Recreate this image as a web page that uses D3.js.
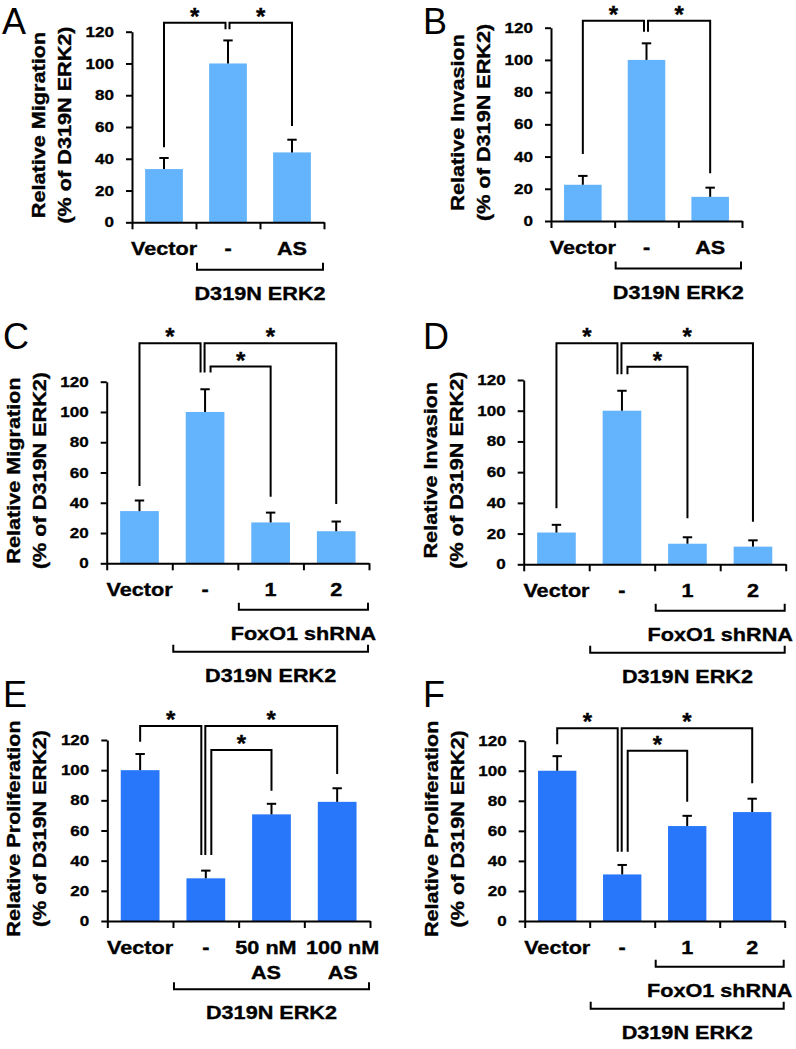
<!DOCTYPE html>
<html><head><meta charset="utf-8">
<script src="https://cdn.jsdelivr.net/npm/d3@7"></script>
<style>
body{margin:0;background:#fff}
svg{display:block}
text{font-family:"Liberation Sans",Arial,Helvetica,sans-serif}
</style>
</head><body>
<svg id="chart" width="796" height="1049"></svg>
<script>
// ---------- data ----------
const yTicks = [0, 20, 40, 60, 80, 100, 120];
const catsAS = ["Vector", "-", "AS"];
const catsShRNA = ["Vector", "-", "1", "2"];
const catsDose = ["Vector", "-", "50 nM|AS", "100 nM|AS"];

const valuesA = [33.5, 100, 44];   const errorsA = [7, 14.5, 8];
const valuesB = [22.5, 100, 15];   const errorsB = [5.5, 10.3, 5.7];
const valuesC = [34.5, 100, 27, 21.2]; const errorsC = [7, 15, 6.5, 6.4];
const valuesD = [20.7, 100, 13.4, 11.5]; const errorsD = [5, 13, 4.2, 4.1];
const valuesE = [100, 28.3, 70.7, 79]; const errorsE = [10.7, 5.1, 7, 9];
const valuesF = [100, 31, 63.2, 72.5]; const errorsF = [9.7, 6.3, 6.8, 8.9];

const yTitleMig = ["Relative Migration", "(% of D319N ERK2)"];
const yTitleInv = ["Relative Invasion", "(% of D319N ERK2)"];
const yTitlePro = ["Relative Proliferation", "(% of D319N ERK2)"];

// significance brackets: from/to category index, levels in data units
const sigA = [{from:0,to:1,top:125.6,y1:47.3,y2:121.6},{from:1,to:2,top:125.6,y1:121.6,y2:60.6}];
const sigB = [{from:0,to:1,top:124.3,y1:41.6,y2:117.5},{from:1,to:2,top:124.3,y1:117.5,y2:29.6}];
const sigC = [{from:0,to:1,top:145.4,y1:51.1,y2:126},{from:1,to:3,top:145.4,y1:126,y2:39.2},{from:1,to:2,top:130,y1:126,y2:44}];
const sigD = [{from:0,to:1,top:143.9,y1:36.5,y2:123.7},{from:1,to:3,top:143.9,y1:123.7,y2:27.7},{from:1,to:2,top:128.6,y1:123.7,y2:30}];
const sigE = [{from:0,to:1,top:129.3,y1:118.9,y2:43.8},{from:1,to:3,top:129.3,y1:43.8,y2:97.5},{from:1,to:2,top:113.4,y1:43.8,y2:86.4}];
const sigF = [{from:0,to:1,top:128.3,y1:117.6,y2:46.1},{from:1,to:3,top:128.3,y1:46.1,y2:91.6},{from:1,to:2,top:113.3,y1:46.1,y2:79.4}];

// group brackets under the axis
const groupsAS = [{label:"D319N ERK2", from:1, to:2, row:0}];
const groupsShRNA = [{label:"FoxO1 shRNA", from:2, to:3, row:0},{label:"D319N ERK2", from:1, to:3, row:1}];
const groupsDose = [{label:"D319N ERK2", from:1, to:3, row:0}];

// ---------- layout ----------
const LIGHT = "#63b3fd", DARK = "#2877fb";
const panels = [
  {letter:"A", lx:2, ly:34, ax:132, x1:324, yTop:31.7, y0:222.3, cats:catsAS, values:valuesA, errors:errorsA, title:yTitleMig, sig:sigA, groups:groupsAS, color:LIGHT, grpTop:47.5, ldx:[0,0,0]},
  {letter:"B", lx:423, ly:34, ax:551, x1:742, yTop:27.7, y0:221, cats:catsAS, values:valuesB, errors:errorsB, title:yTitleInv, sig:sigB, groups:groupsAS, color:LIGHT, grpTop:47.5, ldx:[0,0,0]},
  {letter:"C", lx:3, ly:349, ax:106.7, x1:369, yTop:381.7, y0:563.3, cats:catsShRNA, values:valuesC, errors:errorsC, title:yTitleMig, sig:sigC, groups:groupsShRNA, color:LIGHT, grpTop:46.5, ldx:[0,0,0,0]},
  {letter:"D", lx:423, ly:349, ax:523.7, x1:785.7, yTop:380, y0:564.3, cats:catsShRNA, values:valuesD, errors:errorsD, title:yTitleInv, sig:sigD, groups:groupsShRNA, color:LIGHT, grpTop:46.5, ldx:[0,0,0,0]},
  {letter:"E", lx:3, ly:707, ax:107.3, x1:370, yTop:740, y0:921, cats:catsDose, values:valuesE, errors:errorsE, title:yTitlePro, sig:sigE, groups:groupsDose, color:DARK, grpTop:68.3, ldx:[0,0,-5.5,5.5]},
  {letter:"F", lx:423, ly:707, ax:524.7, x1:784.7, yTop:740.7, y0:921, cats:catsShRNA, values:valuesF, errors:errorsF, title:yTitlePro, sig:sigF, groups:groupsShRNA, color:DARK, grpTop:45.7, ldx:[0,0,0,0]}
];

const SX = 1.17;
const svg = d3.select("#chart");
svg.append("rect").attr("width",796).attr("height",1049).attr("fill","#fff");

function stext(g, x, y, str, o) {
  o = Object.assign({size:18.5, weight:"bold", anchor:"middle", sx:SX, rot:0, stroke:0.35}, o || {});
  const t = g.append("text")
    .attr("transform", `translate(${x},${y}) rotate(${o.rot}) scale(${o.sx},1)`)
    .attr("text-anchor", o.anchor).attr("font-size", o.size)
    .attr("font-weight", o.weight).attr("fill", "#000").text(str);
  if (o.stroke) t.attr("stroke", "#000").attr("stroke-width", o.stroke);
  return t;
}

panels.forEach(P => {
  const g = svg.append("g");
  const n = P.cats.length;
  const y = d3.scaleLinear().domain([0, 120]).range([P.y0, P.yTop]);
  const x = d3.scaleBand().domain(P.cats).range([P.ax, P.x1]).paddingInner(0.41).paddingOuter(0.205);
  const xb = d3.scaleLinear().domain([0, n]).range([P.ax, P.x1]);
  const cx = i => x(P.cats[i]) + x.bandwidth() / 2;

  // panel letter
  stext(g, P.lx, P.ly, P.letter, {size:36, weight:"normal", anchor:"start", sx:1, stroke:0});

  // bars
  g.selectAll("rect.bar").data(P.values).join("rect").attr("class","bar")
    .attr("x", (d,i) => x(P.cats[i])).attr("width", x.bandwidth())
    .attr("y", d => y(d)).attr("height", d => P.y0 - y(d)).attr("fill", P.color);

  // error bars (upper)
  const eb = g.append("g").attr("stroke","#000").attr("stroke-width",2).attr("fill","none");
  P.values.forEach((v,i) => {
    const xc = cx(i), top = y(v + P.errors[i]);
    eb.append("line").attr("x1",xc).attr("x2",xc).attr("y1",y(v)).attr("y2",top);
    eb.append("line").attr("x1",xc-4.7).attr("x2",xc+4.7).attr("y1",top).attr("y2",top);
  });

  // y axis
  const ay = g.append("g").attr("transform",`translate(${P.ax},0)`)
    .call(d3.axisLeft(y).tickValues(yTicks).tickSize(6).tickSizeOuter(0).tickPadding(9));
  ay.attr("font-family", null).attr("font-size", null);
  ay.select(".domain").attr("stroke","#000").attr("stroke-width",2);
  ay.selectAll(".tick line").attr("stroke","#000").attr("stroke-width",2);
  ay.selectAll(".tick text").attr("font-size",14.2).attr("font-weight","bold").attr("fill","#000")
    .attr("stroke","#000").attr("stroke-width",0.3)
    .attr("transform","scale(1.2,1)");

  // x axis (band boundaries)
  const axx = g.append("g").attr("transform",`translate(0,${P.y0})`)
    .call(d3.axisBottom(xb).tickValues(d3.range(n+1)).tickFormat("").tickSize(7).tickSizeOuter(0));
  axx.select(".domain").attr("stroke","#000").attr("stroke-width",2);
  axx.selectAll(".tick line").attr("stroke","#000").attr("stroke-width",2);

  // category labels
  P.cats.forEach((c,i) => {
    const parts = c.split("|");
    parts.forEach((s,k) => stext(g, cx(i) + P.ldx[i], P.y0 + 33 + k*25.3, s));
  });

  // y title
  const ym = (P.y0 + P.yTop) / 2 - 2;
  stext(g, P.ax - 87, ym, P.title[0], {rot:-90});
  stext(g, P.ax - 61, ym, P.title[1], {rot:-90});

  // significance brackets
  const offs = P.sig.length === 2 ? [-2.5, 1.5] : [-4.5, -0.5, 5.5];
  const sg = g.append("g").attr("stroke","#000").attr("stroke-width",2).attr("fill","none");
  P.sig.forEach((s,k) => {
    const xa = cx(s.from) + (k === 0 ? 0 : offs[k]);
    const xz = cx(s.to) + (k === 0 ? offs[0] : 0);
    sg.append("path").attr("d", `M${xa},${y(s.y1)}V${y(s.top)}H${xz}V${y(s.y2)}`);
    stext(g, (xa + xz) / 2, y(s.top) + 2, "*", {size:24, sx:1});
  });

  // group brackets below axis
  const gg = g.append("g").attr("stroke","#000").attr("stroke-width",2).attr("fill","none");
  P.groups.forEach(gr => {
    const yy = P.y0 + P.grpTop + gr.row * 42;
    const xa = xb(gr.from) + 1, xz = xb(gr.to + 1) - 1;
    gg.append("path").attr("d", `M${xa},${yy-7}V${yy}H${xz}V${yy-7}`);
    stext(g, (xa + xz) / 2, yy + 30, gr.label);
  });
});
</script>
</body></html>
